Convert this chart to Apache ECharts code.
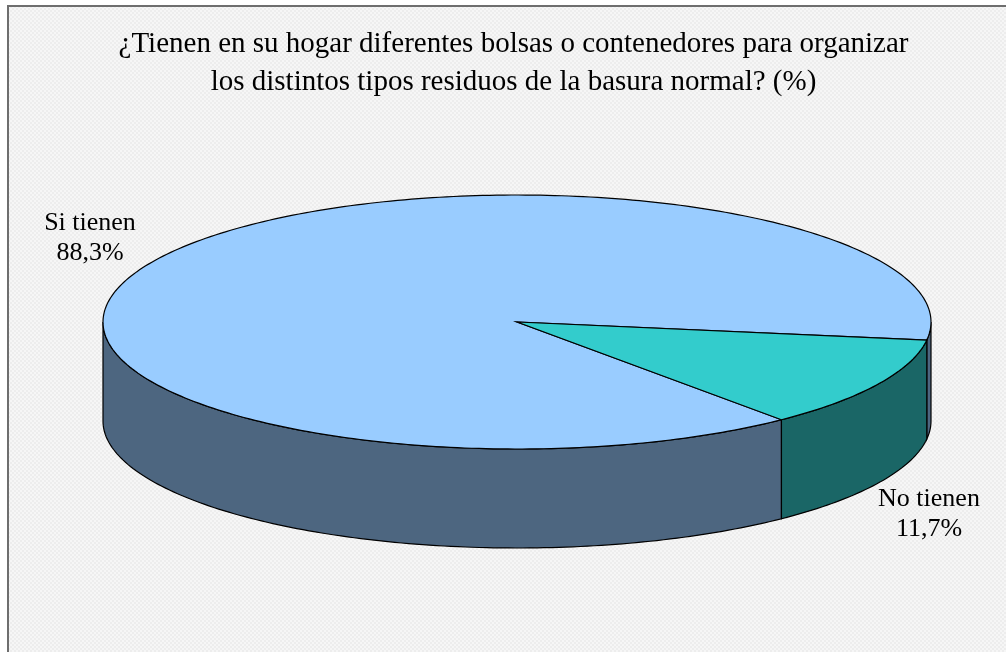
<!DOCTYPE html>
<html>
<head>
<meta charset="utf-8">
<style>
  html, body { margin: 0; padding: 0; background: #fff; }
  #chart { width: 1006px; height: 652px; }
</style>
<script src="https://cdn.jsdelivr.net/npm/echarts@6/dist/echarts.min.js"></script>
</head>
<body>
<div id="chart"></div>
<script>
var categories = ['Si tienen', 'No tienen'];
var values = [88.3, 11.7];
var valueLabels = ['88,3%', '11,7%'];
var titleText = '¿Tienen en su hogar diferentes bolsas o contenedores para organizar\nlos distintos tipos residuos de la basura normal? (%)';

var topColors = ['#99ccff', '#33cccc'];
var sideColors = ['#4d6680', '#1a6666'];
var labelCenters = [[90, 238], [929, 514]];

// geometria del disco
var cx = 517, cy = 322, rx = 414, ry = 127, depth = 99;
var firstAngle = 50.3; // donde empieza "Si tienen", en grados, sentido horario

var total = values.reduce(function (a, b) { return a + b; }, 0);

function pt(deg, dy) {
  var a = deg * Math.PI / 180;
  return [cx + rx * Math.cos(a), cy + ry * Math.sin(a) + (dy || 0)];
}

function arc(from, to, dy) {
  var pts = [];
  var n = Math.max(2, Math.ceil(Math.abs(to - from)));
  for (var i = 0; i <= n; i++) pts.push(pt(from + (to - from) * i / n, dy));
  return pts;
}

// solo se ve el lateral de la mitad delantera (0-180 y 360-540)
function sidePieces(a0, a1) {
  var out = [];
  [[0, 180], [360, 540]].forEach(function (r) {
    var from = Math.max(a0, r[0]), to = Math.min(a1, r[1]);
    if (to > from) {
      out.push({
        type: 'polygon',
        shape: { points: arc(from, to, 0).concat(arc(to, from, depth)) },
        style: { fill: null, stroke: '#000', lineWidth: 1.2 }
      });
    }
  });
  return out;
}

function renderSlice(params, api) {
  var i = params.dataIndex;
  var before = 0;
  for (var k = 0; k < i; k++) before += values[k];
  var a0 = firstAngle + before / total * 360;
  var a1 = a0 + api.value(0) / total * 360;

  var children = sidePieces(a0, a1).map(function (p) {
    p.style.fill = sideColors[i];
    return p;
  });
  children.push({
    type: 'polygon',
    shape: { points: [[cx, cy]].concat(arc(a0, a1, 0)) },
    style: { fill: topColors[i], stroke: '#000', lineWidth: 1.2 }
  });
  children.push({
    type: 'text',
    style: {
      x: labelCenters[i][0],
      y: labelCenters[i][1],
      text: categories[i] + '\n' + valueLabels[i],
      align: 'center',
      verticalAlign: 'middle',
      fontFamily: '"Liberation Serif", serif',
      fontSize: 26,
      lineHeight: 30,
      fill: '#000'
    }
  });
  return { type: 'group', children: children };
}

// trama punteada del fondo
var dots = document.createElement('canvas');
dots.width = 4;
dots.height = 4;
var c = dots.getContext('2d');
c.fillStyle = '#f6f6f6';
c.fillRect(0, 0, 4, 4);
c.fillStyle = '#ededed';
c.fillRect(0, 0, 2, 2);
c.fillRect(2, 2, 2, 2);

var chart = echarts.init(document.getElementById('chart'));
chart.setOption({
  animation: false,
  backgroundColor: '#fff',
  title: {
    text: titleText,
    left: 508.5,
    top: 20,
    textAlign: 'center',
    textStyle: {
      fontFamily: '"Liberation Serif", serif',
      fontSize: 29,
      fontWeight: 'normal',
      lineHeight: 38,
      color: '#000'
    }
  },
  graphic: [{
    type: 'rect',
    z: -1,
    shape: { x: 8, y: 6, width: 1010, height: 660 },
    style: { fill: { image: dots, repeat: 'repeat' }, stroke: '#6e6e6e', lineWidth: 2 }
  }],
  series: [{
    type: 'custom',
    coordinateSystem: 'none',
    renderItem: renderSlice,
    data: values.map(function (v, i) { return { name: categories[i], value: [v] }; })
  }]
});
</script>
</body>
</html>
